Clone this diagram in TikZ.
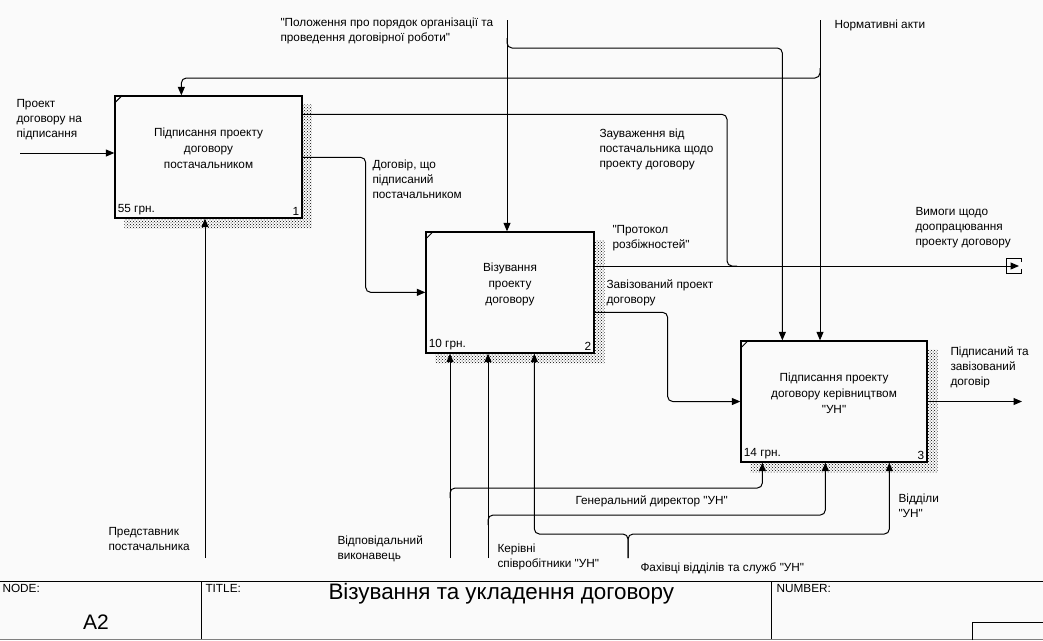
\documentclass[tikz,border=0pt]{standalone}
\usepackage{fontspec}
\setmainfont{Liberation Sans}[Ligatures=TeXOff]
\usepackage{tikz}
\usetikzlibrary{arrows.meta, patterns, calc}
\definecolor{paper}{RGB}{250,250,250}

\begin{document}
\begin{tikzpicture}[x=1pt, y=-1pt, >={Triangle[length=8.5pt,width=7pt]},
  font=\fontsize{11.8}{15}\selectfont, line width=1pt,
  box/.style={draw, line width=1.3pt, fill=paper, minimum width=#1, minimum height=121pt, inner sep=0pt},
  shade/.style={pattern=crosshatch dots, pattern color=black},
  lbl/.style={anchor=north west, inner sep=0pt, align=left},
  cost/.style={inner sep=0pt},
  link/.style={rounded corners=5pt}]
  \fill[paper] (0,0) rectangle (1043,640);
  \useasboundingbox (0,0) rectangle (1043,640);

  % activities
  \node[box=187pt, minimum height=122pt] (b1) at (208.5,157) {};
  \node[box=168pt] (b2) at (510,292.5) {};
  \node[box=186pt] (b3) at (834,401.5) {};
  \foreach \b in {b1,b2,b3}{
    \fill[shade] ([yshift=-9pt]\b.north east) -- ([xshift=10pt,yshift=-9pt]\b.north east)
      -- ([xshift=10pt,yshift=-10pt]\b.south east) -- ([xshift=10pt,yshift=-10pt]\b.south west)
      -- ([xshift=10pt]\b.south west) -- (\b.south east) -- cycle;
    \draw ([yshift=-8pt]\b.north west) -- ([xshift=8pt]\b.north west);
  }
  \node[align=center, font=\fontsize{11.8}{16}\selectfont] (t1) at ([yshift=9pt]b1.center) {Підписання проекту\\договору\\постачальником};
  \node[align=center, font=\fontsize{11.8}{16}\selectfont] (t2) at ([yshift=8pt]b2.center) {Візування\\проекту\\договору};
  \node[align=center, font=\fontsize{11.8}{16}\selectfont] (t3) at ([yshift=8pt]b3.center) {Підписання проекту\\договору керівництвом\\"УН"};
  \node[cost, anchor=south west] (k1) at ([shift={(3pt,3pt)}]b1.south west) {55 грн.};
  \node[cost, anchor=south east] (n1) at ([shift={(-3pt,3pt)}]b1.south east) {1};
  \node[cost, anchor=south west] (k2) at ([shift={(3pt,3pt)}]b2.south west) {10 грн.};
  \node[cost, anchor=south east] (n2) at ([shift={(-3pt,3pt)}]b2.south east) {2};
  \node[cost, anchor=south west] (k3) at ([shift={(3pt,3pt)}]b3.south west) {14 грн.};
  \node[cost, anchor=south east] (n3) at ([shift={(-3pt,3pt)}]b3.south east) {3};

  % input
  \coordinate (in1) at (20,153);
  \draw[->] (in1) -- (in1 -| b1.west);
  \node[lbl] (lin1) at (16,99) {Проект\\договору на\\підписання};

  % controls
  \coordinate (ctlP) at (507,20);
  \coordinate (ctlN) at (820,20);
  \coordinate (jP) at (507,48);
  \coordinate (jN) at (820,78);
  \draw[->] (ctlP) -- (ctlP |- b2.north);
  \draw[->, link] ([yshift=10pt]jP) -- (jP) -| ([xshift=42pt]b3.north west);
  \draw[->] (ctlN) -- (ctlN |- b3.north);
  \draw[->, link] ([yshift=10pt]jN) -- (jN) -| ([xshift=67pt]b1.north west);
  \node[lbl] (lctlP) at (280,17) {"Положення про порядок організації та\\проведення договірної роботи"};
  \node[lbl] (lctlN) at (834,19) {Нормативні акти};

  % outputs
  \coordinate (jZ) at (727,266);
  \coordinate (out2) at (1019,266);
  \coordinate (out3) at (1022,401.5);
  \draw[link] ([yshift=-19pt]b1.north east) -| (jZ) -- ([xshift=10pt]jZ);
  \draw[->] (out2 -| b2.east) -- (out2);
  \draw (out2) ++(2,-4) -- ++(0,-4) -- ++(-15,0) -- ++(0,15) -- ++(15,0) -- ++(0,-4);
  \draw[->, link] ([yshift=-62pt]b1.north east) -- ++(63,0) |- ([yshift=-61pt]b2.north west);
  \draw[->, link] ([yshift=-81pt]b2.north east) -- ++(73,0) |- (b3.west);
  \draw[->] (b3.east) -- (out3);
  \node[lbl] (lz) at (599,128) {Зауваження від\\постачальника щодо\\проекту договору};
  \node[lbl] (ld) at (372,159) {Договір, що\\підписаний\\постачальником};
  \node[lbl] (lp) at (612,225) {"Протокол\\розбіжностей"};
  \node[lbl] (lv) at (915,207) {Вимоги щодо\\доопрацювання\\проекту договору};
  \node[lbl] (lzp) at (606,279) {Завізований проект\\договору};
  \node[lbl] (lout3) at (950,346) {Підписаний та\\завізований\\договір};

  % mechanisms
  \coordinate (m1) at (205,558);
  \coordinate (m2) at (450,558);
  \coordinate (m3) at (488,558);
  \coordinate (m4) at (628,558);
  \coordinate (jG) at (450,488);
  \coordinate (jK) at (488,515);
  \coordinate (jF) at (628,534);
  \draw[->] (m1) -- (m1 |- b1.south);
  \draw[->] (m2) -- (m2 |- b2.south);
  \draw[->] (m3) -- (m3 |- b2.south);
  \draw[->, link] ([yshift=-10pt]jG) -- (jG) -| ([xshift=22pt]b3.south west);
  \draw[->, link] ([yshift=-10pt]jK) -- (jK) -| ([xshift=85pt]b3.south west);
  \draw[->, link] (m4) -- (jF) -| ([xshift=109pt]b2.south west);
  \draw[->, link] (m4) -- (jF) -| ([xshift=149pt]b3.south west);
  \node[lbl] (lm1) at (108,527) {Представник\\постачальника};
  \node[lbl] (lm2) at (337,535) {Відповідальний\\виконавець};
  \node[lbl] (lm3) at (497,543) {Керівні\\співробітники "УН"};
  \node[lbl] (lg) at (575,495) {Генеральний директор "УН"};
  \node[lbl] (lf) at (640,562) {Фахівці відділів та служб "УН"};
  \node[lbl] (lvd) at (898,493) {Відділи\\"УН"};

  % frame
  \draw (0,581) -- (1043,581);
  \draw (201,581) -- (201,640);
  \draw (771,581) -- (771,640);
  \draw[gray] (0,639) -- (1043,639);
  \draw (972,640) |- (1043,622);
  \node[lbl] (fnode) at (2,584) {NODE:};
  \node[lbl] (ftitle) at (205,584) {TITLE:};
  \node[lbl] (fnum) at (776,584) {NUMBER:};
  \node[inner sep=0pt, font=\fontsize{21}{24}\selectfont] (fa) at (96,622) {A2};
  \node[anchor=west, inner sep=0pt, font=\fontsize{22.4}{26}\selectfont] (ftext) at (328,594) {Візування та укладення договору};
\end{tikzpicture}
\end{document}
